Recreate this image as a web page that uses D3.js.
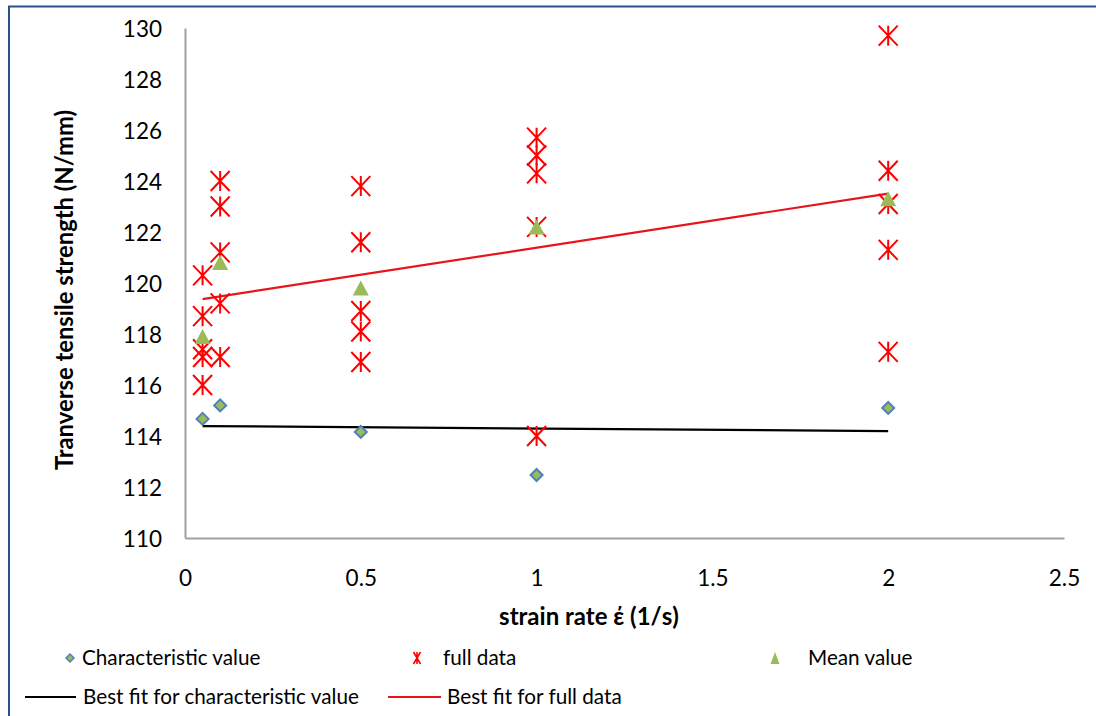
<!DOCTYPE html>
<html>
<head>
<meta charset="utf-8">
<script src="https://cdn.jsdelivr.net/npm/d3@7"></script>
<style>
  html, body { margin: 0; padding: 0; background: #fff; }
  svg { display: block; }
  text { font-family: Lato, "Open Sans", sans-serif; fill: #000; }
</style>
</head>
<body>
<svg id="chart" width="1096" height="716"></svg>
<script>
// ---------- data ----------
const charX = [0.05, 0.1, 0.5, 1, 2];
const charY = [114.67, 115.2, 114.16, 112.47, 115.1];

const meanX = [0.05, 0.1, 0.5, 1, 2];
const meanY = [117.9, 120.8, 119.8, 122.2, 123.3];

const fullX = [0.05, 0.05, 0.05, 0.05, 0.05,
               0.1, 0.1, 0.1, 0.1, 0.1,
               0.5, 0.5, 0.5, 0.5, 0.5,
               1, 1, 1, 1, 1,
               2, 2, 2, 2, 2];
const fullY = [120.3, 118.7, 117.4, 117.1, 116.0,
               124.0, 123.0, 121.2, 119.2, 117.1,
               123.8, 121.6, 118.9, 118.1, 116.9,
               125.7, 125.0, 124.3, 122.2, 114.0,
               129.7, 124.4, 123.1, 121.3, 117.3];

const xTicks = [0, 0.5, 1, 1.5, 2, 2.5];
const xTickLabels = ["0", "0.5", "1", "1.5", "2", "2.5"];
const yTicks = [110, 112, 114, 116, 118, 120, 122, 124, 126, 128, 130];

const xTitle = "strain rate \u03AD (1/s)";
const yTitle = "Tranverse tensile strength (N/mm)";
const legendNames = ["Characteristic value", "full data", "Mean value",
                     "Best fit for characteristic value", "Best fit for full data"];

// ---------- helpers ----------
function linFit(xs, ys) {
  const n = xs.length;
  const mx = d3.mean(xs), my = d3.mean(ys);
  let sxy = 0, sxx = 0;
  for (let i = 0; i < n; i++) { sxy += (xs[i]-mx)*(ys[i]-my); sxx += (xs[i]-mx)*(xs[i]-mx); }
  const b = sxy / sxx, a = my - b * mx;
  const x0 = d3.min(xs), x1 = d3.max(xs);
  return [[x0, a + b*x0], [x1, a + b*x1]];
}
function starPath(w, h) {
  return `M${-w/2},${-h/2}L${w/2},${h/2}M${w/2},${-h/2}L${-w/2},${h/2}M0,${-h/2}L0,${h/2}`;
}
function diamondPath(s) { return `M0,${-s/2}L${s/2},0L0,${s/2}L${-s/2},0Z`; }
function triPath(w, h) { return `M0,${-h/2}L${w/2},${h/2}L${-w/2},${h/2}Z`; }

// ---------- layout ----------
const svg = d3.select("#chart");
const pLeft = 185, pRight = 1064, pTop = 28, pBottom = 538;

const x = d3.scaleLinear().domain([0, 2.5]).range([pLeft, pRight]);
const y = d3.scaleLinear().domain([110, 130]).range([pBottom, pTop]);

const COL_BLUE = "#4F81BD", COL_GREEN = "#9BBB59", COL_RED = "#FF0000";

// outer border (chart area)
svg.append("path")
  .attr("d", "M9,716L9,6.5L1096,6.5")
  .attr("fill", "none").attr("stroke", "#2A5285").attr("stroke-width", 2);

// axes
const xAxis = d3.axisBottom(x).tickValues(xTicks).tickSize(0).tickPadding(0)
  .tickFormat((d, i) => xTickLabels[i]);
const gx = svg.append("g").attr("transform", `translate(0,${pBottom})`).call(xAxis);
gx.select(".domain").attr("stroke", "#A0A0A0").attr("stroke-width", 2);
gx.selectAll("text").attr("font-size", 22.5).attr("y", 0).attr("dy", 48)
  .attr("font-family", "Lato, sans-serif").attr("fill", "#000");

const yAxis = d3.axisLeft(y).tickValues(yTicks).tickSize(0).tickPadding(0);
const gy = svg.append("g").attr("transform", `translate(${pLeft},0)`).call(yAxis);
gy.select(".domain").attr("stroke", "#A0A0A0").attr("stroke-width", 2);
gy.selectAll("text").attr("font-size", 22.5).attr("x", -23).attr("dy", "0.36em")
  .attr("font-family", "Lato, sans-serif").attr("fill", "#000");

// axis titles
svg.append("text").attr("x", 589).attr("y", 625).attr("text-anchor", "middle")
  .attr("font-weight", "bold").attr("font-size", 24).text(xTitle);
svg.append("text").attr("transform", "translate(73,290) rotate(-90)")
  .attr("text-anchor", "middle").attr("font-weight", "bold").attr("font-size", 23.8)
  .text(yTitle);

// trend lines
const line = d3.line().x(d => x(d[0])).y(d => y(d[1]));
svg.append("path").attr("d", line(linFit(charX, charY)))
  .attr("stroke", "#000").attr("stroke-width", 2.2).attr("fill", "none");
svg.append("path").attr("d", line(linFit(fullX, fullY)))
  .attr("stroke", "#E8141B").attr("stroke-width", 2.2).attr("fill", "none");

// characteristic values
svg.append("g").selectAll("path").data(charX.map((v, i) => [v, charY[i]])).join("path")
  .attr("transform", d => `translate(${x(d[0])},${y(d[1])})`)
  .attr("d", diamondPath(12))
  .attr("fill", COL_GREEN).attr("stroke", COL_BLUE).attr("stroke-width", 2);

// full data
svg.append("g").selectAll("path").data(fullX.map((v, i) => [v, fullY[i]])).join("path")
  .attr("transform", d => `translate(${x(d[0])},${y(d[1])})`)
  .attr("d", starPath(19, 20))
  .attr("fill", "none").attr("stroke", COL_RED).attr("stroke-width", 2);

// means
svg.append("g").selectAll("path").data(meanX.map((v, i) => [v, meanY[i]])).join("path")
  .attr("transform", d => `translate(${x(d[0])},${y(d[1])})`)
  .attr("d", triPath(16, 15))
  .attr("fill", COL_GREEN);

// ---------- legend ----------
const lg = svg.append("g");
const row1 = 658, row2 = 697, lfs = 20.7;
lg.append("path").attr("transform", `translate(70,${row1})`).attr("d", diamondPath(8))
  .attr("fill", COL_GREEN).attr("stroke", COL_BLUE).attr("stroke-width", 1.5);
lg.append("text").attr("x", 82).attr("y", row1).attr("dy", "0.35em").attr("font-size", lfs).text(legendNames[0]);

lg.append("path").attr("transform", `translate(417,${row1})`).attr("d", starPath(7, 12))
  .attr("fill", "none").attr("stroke", COL_RED).attr("stroke-width", 1.6);
lg.append("text").attr("x", 443).attr("y", row1).attr("dy", "0.35em").attr("font-size", lfs).text(legendNames[1]);

lg.append("path").attr("transform", `translate(775,${row1})`).attr("d", triPath(9, 12))
  .attr("fill", COL_GREEN);
lg.append("text").attr("x", 808).attr("y", row1).attr("dy", "0.35em").attr("font-size", lfs).text(legendNames[2]);

lg.append("line").attr("x1", 25).attr("x2", 76).attr("y1", row2).attr("y2", row2)
  .attr("stroke", "#000").attr("stroke-width", 2.2);
lg.append("text").attr("x", 83).attr("y", row2).attr("dy", "0.35em").attr("font-size", lfs).text(legendNames[3]);

lg.append("line").attr("x1", 388).attr("x2", 441).attr("y1", row2).attr("y2", row2)
  .attr("stroke", "#E8141B").attr("stroke-width", 2.2);
lg.append("text").attr("x", 447).attr("y", row2).attr("dy", "0.35em").attr("font-size", lfs).text(legendNames[4]);
</script>
</body>
</html>
